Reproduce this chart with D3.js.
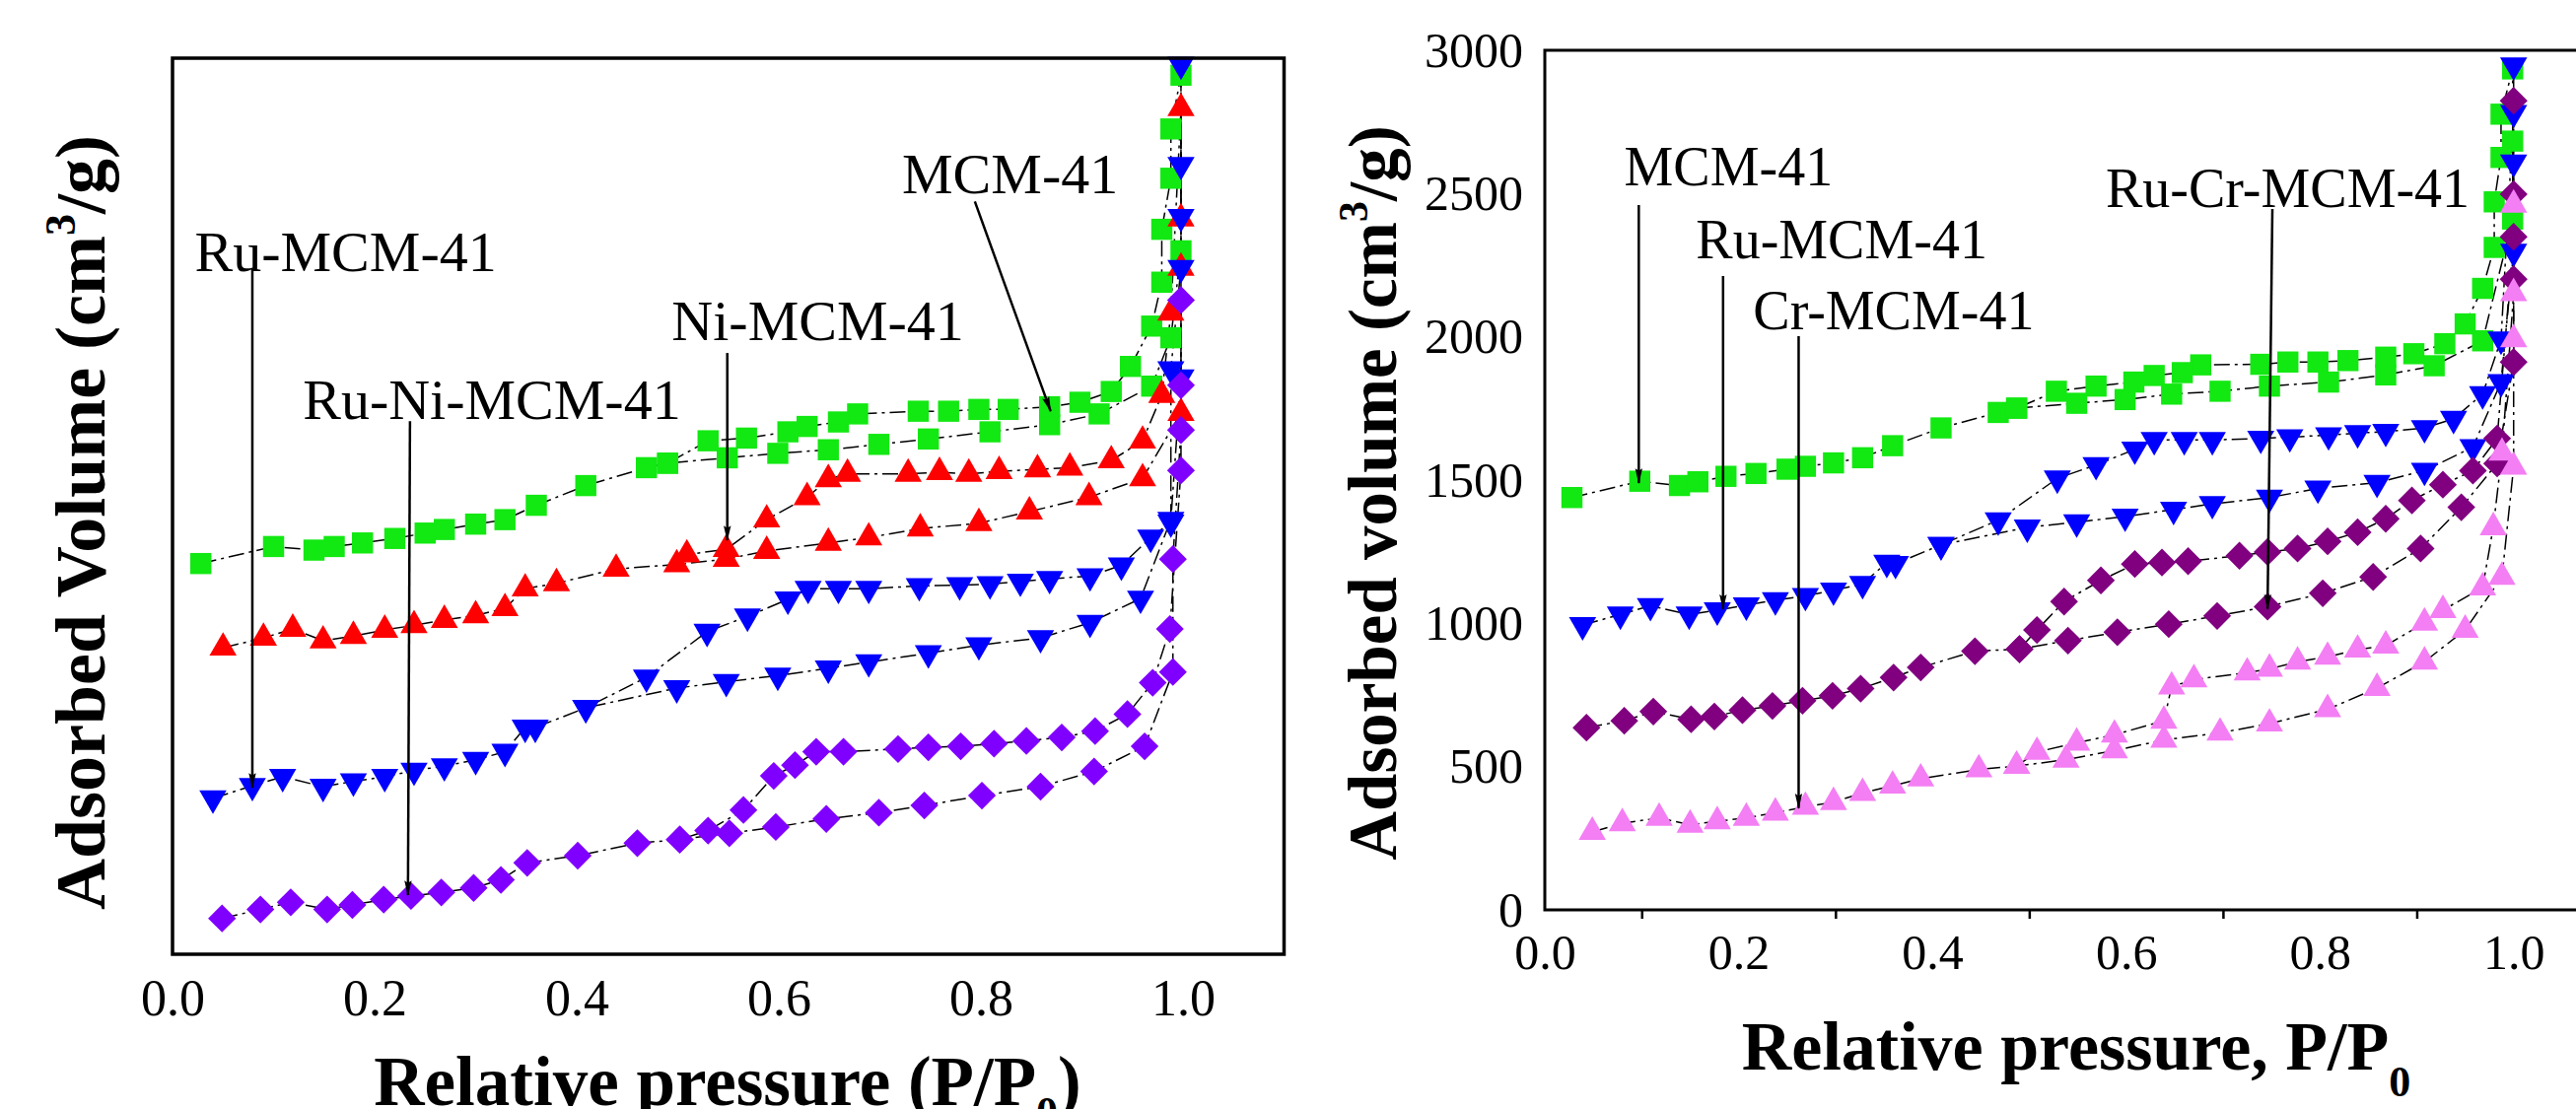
<!DOCTYPE html>
<html>
<head>
<meta charset="utf-8">
<script src="https://cdn.jsdelivr.net/npm/d3@7"></script>
<style>
  body { margin: 0; background: #fff; }
  svg text { font-family: "Liberation Serif", "Times New Roman", serif; fill: #000; }
</style>
</head>
<body>
<div id="wrap"></div>
<script>
// ---- left panel data (relative pressure, volume in arbitrary units 0..1000) ----
const mcmLeftAds = [[0.028,436],[0.100,455],[0.140,451],[0.160,455],[0.188,459],[0.220,464],[0.250,470],[0.269,474],[0.300,480],[0.329,485],[0.360,501],[0.409,523],[0.469,543],[0.490,548],[0.549,554],[0.599,559],[0.649,563],[0.699,569],[0.748,575],[0.809,583],[0.868,591],[0.917,603],[0.969,634],[0.988,688],[0.998,785],[0.998,981]];
const mcmLeftDes = [[0.988,921],[0.988,866],[0.979,809],[0.979,750],[0.969,701],[0.948,656],[0.929,628],[0.898,616],[0.868,611],[0.827,608],[0.798,608],[0.768,606],[0.738,606],[0.678,603],[0.659,594],[0.628,589],[0.609,583],[0.568,576],[0.530,573],[0.490,548]];
const niLeftAds = [[0.050,342],[0.090,353],[0.119,363],[0.149,350],[0.179,355],[0.210,362],[0.239,367],[0.269,373],[0.300,378],[0.329,386],[0.349,408],[0.380,414],[0.439,430],[0.499,435],[0.548,441],[0.588,450],[0.649,459],[0.689,465],[0.740,475],[0.798,481],[0.848,494],[0.907,510],[0.960,531],[0.998,604],[0.998,766],[0.998,821],[0.998,944]];
const niLeftDes = [[0.988,716],[0.979,624],[0.960,573],[0.929,551],[0.888,543],[0.856,541],[0.818,539],[0.788,536],[0.759,538],[0.728,536],[0.668,536],[0.649,530],[0.628,510],[0.588,485],[0.548,452],[0.509,446]];
const ruLeftAds = [[0.040,174],[0.079,188],[0.109,198],[0.149,187],[0.179,193],[0.210,198],[0.239,205],[0.269,210],[0.300,217],[0.329,226],[0.349,253],[0.359,253],[0.409,275],[0.499,297],[0.548,304],[0.599,311],[0.649,319],[0.689,326],[0.748,336],[0.798,345],[0.859,353],[0.908,370],[0.958,397],[0.988,485],[0.998,644],[0.998,823],[0.998,993]];
const ruLeftDes = [[0.998,881],[0.998,766],[0.988,653],[0.988,482],[0.968,465],[0.939,434],[0.908,422],[0.868,419],[0.839,416],[0.809,413],[0.779,412],[0.739,411],[0.689,408],[0.659,408],[0.629,408],[0.609,396],[0.569,377],[0.529,360],[0.469,309],[0.409,275]];
const ruNiLeftAds = [[0.049,40],[0.087,50],[0.117,58],[0.153,50],[0.178,55],[0.209,61],[0.236,65],[0.266,69],[0.298,74],[0.325,83],[0.351,102],[0.401,110],[0.460,124],[0.502,128],[0.551,135],[0.597,142],[0.647,151],[0.699,158],[0.744,166],[0.801,177],[0.859,187],[0.912,204],[0.962,232],[0.990,315],[0.990,441],[0.998,585],[0.998,730]];
const ruNiLeftDes = [[0.998,635],[0.998,540],[0.987,363],[0.970,303],[0.945,268],[0.913,249],[0.880,242],[0.845,238],[0.813,235],[0.780,232],[0.748,231],[0.718,229],[0.664,226],[0.637,226],[0.616,211],[0.595,199],[0.565,161],[0.530,138],[0.502,128]];

// ---- right panel data (relative pressure, cm3/g) ----
const mcmRightAds = [[0.028,1439],[0.098,1496],[0.139,1481],[0.158,1494],[0.187,1513],[0.218,1523],[0.250,1538],[0.269,1548],[0.298,1560],[0.328,1578],[0.359,1620],[0.409,1682],[0.468,1736],[0.487,1751],[0.549,1768],[0.599,1781],[0.647,1800],[0.697,1810],[0.748,1828],[0.809,1842],[0.868,1867],[0.918,1899],[0.968,1986],[0.999,2411],[0.999,2683],[0.999,2935]];
const mcmRightDes = [[0.987,2777],[0.987,2626],[0.980,2471],[0.980,2312],[0.968,2169],[0.950,2045],[0.929,1976],[0.897,1941],[0.868,1929],[0.829,1917],[0.798,1912],[0.767,1912],[0.739,1904],[0.677,1902],[0.658,1875],[0.629,1865],[0.608,1842],[0.569,1828],[0.528,1810],[0.487,1751]];
const ruRightAds = [[0.039,994],[0.078,1031],[0.109,1061],[0.149,1031],[0.178,1046],[0.208,1063],[0.238,1081],[0.269,1096],[0.298,1115],[0.328,1138],[0.353,1212],[0.362,1208],[0.409,1274],[0.498,1335],[0.549,1353],[0.599,1373],[0.649,1397],[0.689,1417],[0.748,1439],[0.798,1471],[0.859,1491],[0.908,1533],[0.958,1615],[0.987,1842],[1.0,2297],[1.0,2609],[1.0,2948]];
const ruRightDes = [[1.0,2782],[0.987,1991],[0.968,1800],[0.938,1714],[0.908,1682],[0.868,1669],[0.839,1664],[0.809,1657],[0.769,1650],[0.739,1645],[0.689,1640],[0.660,1640],[0.629,1640],[0.609,1607],[0.569,1553],[0.529,1506],[0.468,1360],[0.409,1274]];
const ruCrRightAds = [[0.043,636],[0.082,660],[0.112,692],[0.151,665],[0.175,675],[0.204,697],[0.235,712],[0.266,730],[0.297,747],[0.326,772],[0.360,811],[0.388,846],[0.444,903],[0.490,910],[0.540,940],[0.591,969],[0.644,997],[0.694,1026],[0.746,1058],[0.803,1105],[0.855,1162],[0.904,1261],[0.946,1405],[0.983,1558],[1.0,1912],[1.0,2201],[1.0,2498],[1.0,2824]];
const ruCrRightDes = [[1.0,2349],[0.983,1645],[0.958,1533],[0.927,1484],[0.895,1429],[0.868,1365],[0.839,1318],[0.808,1286],[0.777,1261],[0.746,1249],[0.717,1236],[0.664,1217],[0.637,1212],[0.609,1207],[0.574,1150],[0.536,1076],[0.508,977],[0.490,910]];
const crRightAds = [[0.049,272],[0.080,302],[0.118,321],[0.150,297],[0.178,309],[0.208,321],[0.238,339],[0.269,359],[0.298,376],[0.328,408],[0.359,433],[0.388,458],[0.448,490],[0.487,502],[0.538,524],[0.588,556],[0.639,593],[0.697,618],[0.748,650],[0.808,700],[0.859,774],[0.908,866],[0.950,977],[0.988,1162],[1.0,1546],[1.0,1991],[1.0,2461]];
const crRightDes = [[1.0,2152],[0.988,1595],[0.979,1335],[0.968,1125],[0.927,1046],[0.908,1002],[0.868,922],[0.839,908],[0.808,883],[0.777,866],[0.748,841],[0.725,828],[0.670,804],[0.647,779],[0.639,660],[0.588,611],[0.549,583],[0.508,551],[0.487,502]];

const xTickLabels = [0, 0.2, 0.4, 0.6, 0.8, 1.0];
const xMinorTicks = [0.1, 0.3, 0.5, 0.7, 0.9];
const yTickLabelsRight = [0, 500, 1000, 1500, 2000, 2500, 3000];

const width = 2613;
const height = 1125;

const svg = d3.select("#wrap").append("svg")
  .attr("width", width).attr("height", height)
  .attr("viewBox", `0 0 ${width} ${height}`);

svg.append("defs").append("marker")
  .attr("id", "arrow")
  .attr("markerUnits", "userSpaceOnUse")
  .attr("markerWidth", 16).attr("markerHeight", 26)
  .attr("viewBox", "0 -8 26 16")
  .attr("refX", 24).attr("refY", 0)
  .attr("orient", "auto")
  .append("path")
  .attr("d", "M0,-6L26,0L0,6L4,0Z")
  .attr("fill", "#000");

const shapes = {
  square: { type: d3.symbolSquare, size: 460, rotate: 0 },
  up: { type: d3.symbolTriangle, size: 330, rotate: 0 },
  down: { type: d3.symbolTriangle, size: 330, rotate: 180 },
  diamond: { type: d3.symbolSquare, size: 400, rotate: 45 },
};

function drawPanel(cfg) {
  const { xScale, yScale, series, notes } = cfg;
  const g = svg.append("g");

  const line = d3.line().x((d) => xScale(d[0])).y((d) => yScale(d[1]));

  g.append("g").selectAll("path")
    .data(series)
    .join("path")
    .attr("d", (s) => line(s.ads.concat(s.des)))
    .attr("fill", "none")
    .attr("stroke", "#000")
    .attr("stroke-width", 1.5)
    .attr("stroke-dasharray", "16,5,3,5");

  series.forEach((s) => {
    const sh = shapes[s.shape];
    g.append("g").selectAll("path")
      .data(s.ads.concat(s.des))
      .join("path")
      .attr("d", d3.symbol(sh.type, sh.size))
      .attr("transform", (d) => `translate(${xScale(d[0])},${yScale(d[1])}) rotate(${sh.rotate})`)
      .attr("fill", s.color);
  });

  // annotation labels + arrows
  const ann = g.append("g");
  notes.forEach((n) => {
    ann.append("text")
      .attr("x", xScale(n.text[0])).attr("y", yScale(n.text[1]))
      .style("font-size", cfg.noteSize + "px")
      .text(n.label);
    ann.append("line")
      .attr("x1", xScale(n.from[0])).attr("y1", yScale(n.from[1]))
      .attr("x2", xScale(n.to[0])).attr("y2", yScale(n.to[1]))
      .attr("stroke", "#000").attr("stroke-width", 2.5)
      .attr("marker-end", "url(#arrow)");
  });

  const [x0, x1] = xScale.range();
  const [y0, y1] = yScale.range();
  g.append("rect")
    .attr("x", x0).attr("y", y1)
    .attr("width", x1 - x0).attr("height", y0 - y1)
    .attr("fill", "none")
    .attr("stroke", "#000")
    .attr("stroke-width", cfg.frameWidth);
  return g;
}

// ---------- left panel ----------
const xLeft = d3.scaleLinear([0, 1.1], [175, 1302.5]);
const yLeft = d3.scaleLinear([0, 1000], [968, 59]);

drawPanel({
  xScale: xLeft, yScale: yLeft, frameWidth: 3.5, noteSize: 58,
  series: [
    { ads: mcmLeftAds, des: mcmLeftDes, color: "#12e812", shape: "square" },
    { ads: niLeftAds, des: niLeftDes, color: "#ff0000", shape: "up" },
    { ads: ruLeftAds, des: ruLeftDes, color: "#0000ff", shape: "down" },
    { ads: ruNiLeftAds, des: ruNiLeftDes, color: "#8000ff", shape: "diamond" },
  ],
  notes: [
    { label: "MCM-41", text: [0.722, 849], from: [0.794, 840], to: [0.869, 606] },
    { label: "Ni-MCM-41", text: [0.494, 685], from: [0.549, 671], to: [0.549, 462] },
    { label: "Ru-Ni-MCM-41", text: [0.129, 597], from: [0.235, 595], to: [0.233, 66] },
    { label: "Ru-MCM-41", text: [0.022, 762], from: [0.079, 765], to: [0.079, 186] },
  ],
});

svg.append("g")
  .attr("transform", `translate(0,${yLeft.range()[0]})`)
  .call(d3.axisBottom(xLeft).tickValues(xTickLabels).tickSize(0).tickPadding(25).tickFormat(d3.format(".1f")))
  .call((a) => a.select(".domain").remove())
  .selectAll("text")
  .style("font-family", '"Liberation Serif", serif')
  .style("font-size", "52px");

// the reference crops the bottom of this title at the picture edge
const leftXTitle = svg.append("text")
  .attr("x", 738).attr("y", 1121)
  .attr("text-anchor", "middle")
  .style("font-size", "71px").style("font-weight", "bold");
leftXTitle.append("tspan").text("Relative pressure (P/P");
leftXTitle.append("tspan").attr("dy", 22).style("font-size", "44px").text("0");
leftXTitle.append("tspan").attr("dy", -22).text(")");

const leftYTitle = svg.append("text")
  .attr("transform", "translate(106,530) rotate(-90)")
  .attr("text-anchor", "middle")
  .style("font-size", "72px").style("font-weight", "bold");
leftYTitle.append("tspan").text("Adsorbed Volume (cm");
leftYTitle.append("tspan").attr("dy", -30).style("font-size", "44px").text("3");
leftYTitle.append("tspan").attr("dy", 30).text("/g)");

// ---------- right panel ----------
const xRight = d3.scaleLinear([0, 1.1], [1567, 2648]);
const yRight = d3.scaleLinear([0, 3000], [923, 51]);

drawPanel({
  xScale: xRight, yScale: yRight, frameWidth: 3, noteSize: 56,
  series: [
    { ads: mcmRightAds, des: mcmRightDes, color: "#12e812", shape: "square" },
    { ads: ruRightAds, des: ruRightDes, color: "#0000ff", shape: "down" },
    { ads: ruCrRightAds, des: ruCrRightDes, color: "#800080", shape: "diamond" },
    { ads: crRightAds, des: crRightDes, color: "#f47ef4", shape: "up" },
  ],
  notes: [
    { label: "MCM-41", text: [0.082, 2529], from: [0.097, 2460], to: [0.097, 1490] },
    { label: "Ru-MCM-41", text: [0.156, 2274], from: [0.184, 2212], to: [0.184, 1050] },
    { label: "Cr-MCM-41", text: [0.215, 2026], from: [0.262, 2002], to: [0.262, 355] },
    { label: "Ru-Cr-MCM-41", text: [0.579, 2453], from: [0.751, 2446], to: [0.746, 1050] },
  ],
});

svg.append("g")
  .attr("transform", `translate(0,${yRight.range()[0]})`)
  .call(d3.axisBottom(xRight).tickValues(xTickLabels).tickSize(0).tickPadding(24).tickFormat(d3.format(".1f")))
  .call((a) => a.select(".domain").remove())
  .selectAll("text")
  .style("font-family", '"Liberation Serif", serif')
  .style("font-size", "50px");

svg.append("g")
  .attr("transform", `translate(0,${yRight.range()[0]})`)
  .call(d3.axisBottom(xRight).tickValues(xMinorTicks).tickSize(9).tickFormat(""))
  .call((a) => a.select(".domain").remove())
  .selectAll("line").attr("stroke-width", 2.5);

svg.append("g")
  .attr("transform", `translate(${xRight.range()[0]},0)`)
  .call(d3.axisLeft(yRight).tickValues(yTickLabelsRight).tickSize(0).tickPadding(22).tickFormat(d3.format("d")))
  .call((a) => a.select(".domain").remove())
  .selectAll("text")
  .style("font-family", '"Liberation Serif", serif')
  .style("font-size", "50px");

const rightXTitle = svg.append("text")
  .attr("x", 2106).attr("y", 1085)
  .attr("text-anchor", "middle")
  .style("font-size", "70px").style("font-weight", "bold");
rightXTitle.append("tspan").text("Relative pressure, P/P");
rightXTitle.append("tspan").attr("dy", 27).style("font-size", "44px").text("0");

const rightYTitle = svg.append("text")
  .attr("transform", "translate(1416,500) rotate(-90)")
  .attr("text-anchor", "middle")
  .style("font-size", "69px").style("font-weight", "bold");
rightYTitle.append("tspan").text("Adsorbed volume (cm");
rightYTitle.append("tspan").attr("dy", -29).style("font-size", "42px").text("3");
rightYTitle.append("tspan").attr("dy", 29).text("/g)");
</script>
</body>
</html>
